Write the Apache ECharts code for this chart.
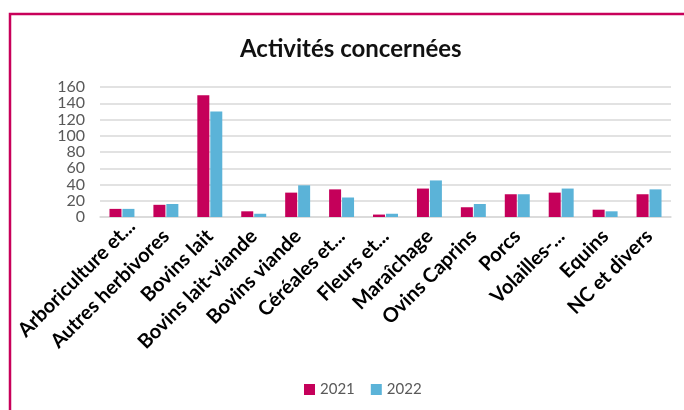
<!DOCTYPE html>
<html><head><meta charset="utf-8">
<script src="https://cdn.jsdelivr.net/npm/echarts@6/dist/echarts.min.js"></script>
<style>html,body{margin:0;padding:0;background:#fff}#c{width:684px;height:410px}</style>
</head><body><div id="c"></div>
<script>
const categories = ["Arboriculture et...", "Autres herbivores", "Bovins lait", "Bovins lait-viande", "Bovins viande", "Céréales et...", "Fleurs et...", "Maraîchage", "Ovins Caprins", "Porcs", "Volailles-...", "Equins", "NC et divers"];
const values2021 = [10, 15, 150, 7, 30, 34, 3, 35, 12, 28, 30, 9, 28];
const values2022 = [10, 16, 130, 4, 39, 24, 4, 45, 16, 28, 35, 7, 34];
const seriesNames = ["2021", "2022"];
const yTicks = [0, 20, 40, 60, 80, 100, 120, 140, 160];

const chart = echarts.init(document.getElementById('c'), null, {renderer: 'canvas'});
const font = 'Lato, "Noto Sans", sans-serif';
const catData = categories.map((c, i) => i === 0 ? {value: c, textStyle: {padding: [0, -14, 0, 0]}} : c);
chart.setOption({
  animation: false,
  graphic: [{
    type: 'rect', silent: true,
    shape: {x: 10, y: 14, width: 720, height: 430},
    style: {fill: 'none', stroke: '#C8005A', lineWidth: 2.5}
  }],
  title: {
    text: 'Activités concernées', left: 235, top: 32,
    textStyle: {fontFamily: font, fontWeight: 'bold', fontSize: 24, color: '#111'}
  },
  legend: {
    data: seriesNames, top: 377, left: 299,
    itemWidth: 11, itemHeight: 11, itemGap: 16,
    icon: 'rect',
    textStyle: {fontFamily: font, fontSize: 15, color: '#595959'}
  },
  grid: {left: 100, right: 13, top: 87, bottom: 193, containLabel: false},
  xAxis: {
    type: 'category', data: catData,
    axisLine: {show: true, lineStyle: {color: '#d9d9d9', width: 1.5}},
    axisTick: {show: false},
    axisLabel: {interval: 0, rotate: 45, margin: 16, fontFamily: font, fontWeight: 'bold', fontSize: 20, color: '#000'}
  },
  yAxis: {
    type: 'value', min: 0, max: 160, interval: 20,
    axisLine: {show: false}, axisTick: {show: false},
    splitLine: {lineStyle: {color: '#d9d9d9', width: 1.5}},
    axisLabel: {margin: 15, fontFamily: font, fontSize: 16, color: '#595959',
      formatter: v => yTicks.includes(v) ? String(v) : ''}
  },
  series: [
    {name: seriesNames[0], type: 'bar', data: values2021, barWidth: 12, barGap: '8%', itemStyle: {color: '#C5005A'}},
    {name: seriesNames[1], type: 'bar', data: values2022, barWidth: 12, itemStyle: {color: '#5BB3D8'}}
  ]
});
</script></body></html>
